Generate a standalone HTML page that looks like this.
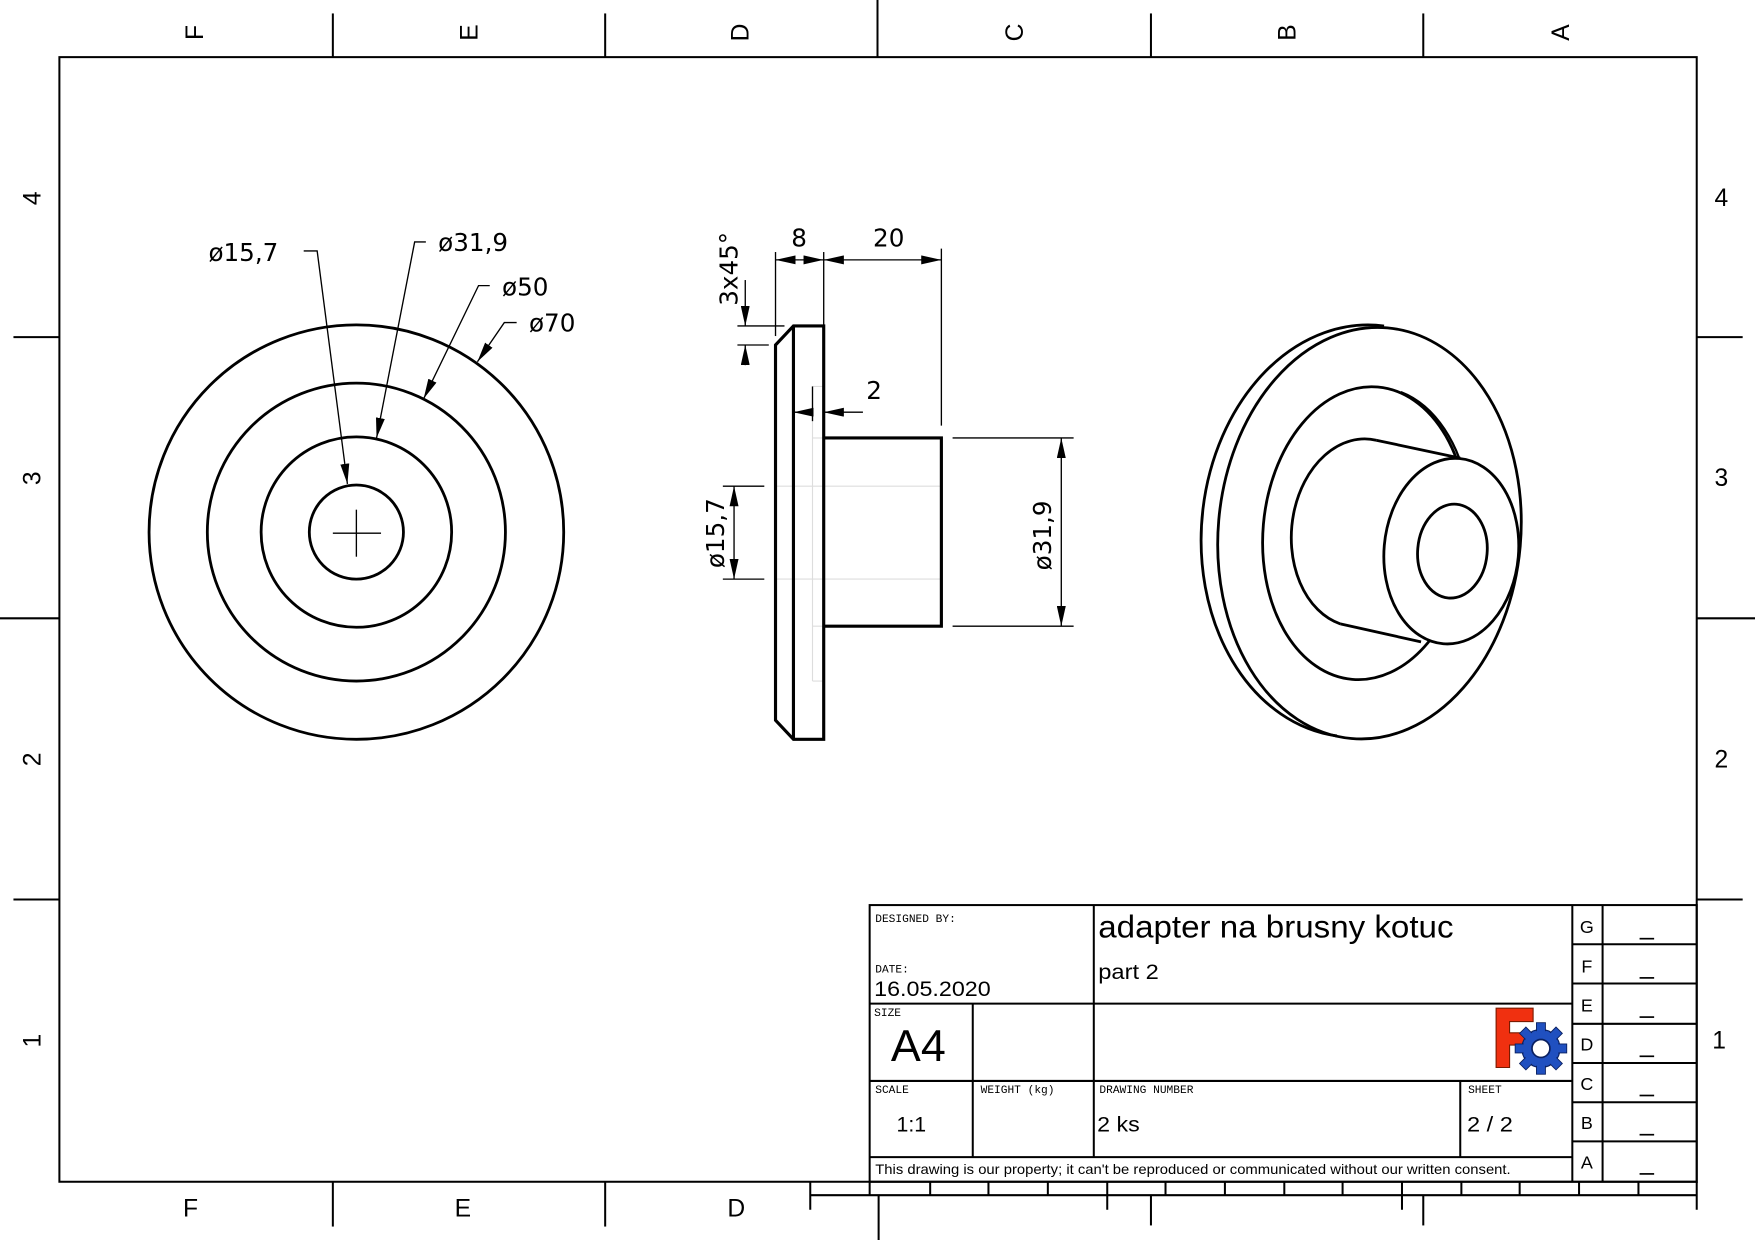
<!DOCTYPE html>
<html><head><meta charset="utf-8"><style>
html,body{margin:0;padding:0;background:#fff}
svg{display:block}
text{font-family:"DejaVu Sans","Liberation Sans",sans-serif}
.t{font-family:"Liberation Sans",sans-serif}
.m{font-family:"Liberation Mono","DejaVu Sans Mono",monospace;font-size:10px}
</style></head><body>
<svg width="1755" height="1240" viewBox="0 0 1566 1107" preserveAspectRatio="none" xmlns="http://www.w3.org/2000/svg">
<defs>
<marker id="a" viewBox="0 0 18 8" refX="18" refY="4" markerWidth="18" markerHeight="8" markerUnits="userSpaceOnUse" orient="auto-start-reverse"><path d="M0,0 L18,4 L0,8 z" fill="#000"/></marker>
</defs>
<rect width="1566" height="1107" fill="#fff"/>
<g stroke="#000" stroke-width="1.8" fill="none">
<rect x="53" y="51" width="1461" height="1004"/>
<line x1="297" y1="12" x2="297" y2="51"/><line x1="540" y1="12" x2="540" y2="51"/><line x1="783" y1="0" x2="783" y2="51"/><line x1="1027" y1="12" x2="1027" y2="51"/><line x1="1270" y1="12" x2="1270" y2="51"/>
<line x1="297" y1="1055" x2="297" y2="1095"/><line x1="540" y1="1055" x2="540" y2="1095"/>
<line x1="12" y1="301" x2="53" y2="301"/><line x1="0" y1="552" x2="53" y2="552"/><line x1="12" y1="803" x2="53" y2="803"/>
<line x1="1514" y1="301" x2="1555" y2="301"/><line x1="1514" y1="552" x2="1566" y2="552"/><line x1="1514" y1="803" x2="1555" y2="803"/>
</g>
<g font-size="22" text-anchor="middle" class="t" font-family="Liberation Sans">
<text transform="translate(181,29) rotate(-90)" class="t">F</text>
<text transform="translate(426,29) rotate(-90)" class="t">E</text>
<text transform="translate(668,29) rotate(-90)" class="t">D</text>
<text transform="translate(913,29) rotate(-90)" class="t">C</text>
<text transform="translate(1156,29) rotate(-90)" class="t">B</text>
<text transform="translate(1400,29) rotate(-90)" class="t">A</text>
<text transform="translate(36,177) rotate(-90)" class="t">4</text>
<text transform="translate(36,427) rotate(-90)" class="t">3</text>
<text transform="translate(36,678) rotate(-90)" class="t">2</text>
<text transform="translate(36,929) rotate(-90)" class="t">1</text>
<text x="170" y="1086" class="t">F</text><text x="413" y="1086" class="t">E</text><text x="657" y="1086" class="t">D</text>
<text x="1536" y="184" class="t">4</text><text x="1536" y="434" class="t">3</text><text x="1536" y="685" class="t">2</text><text x="1534" y="936" class="t">1</text>
</g>
<g stroke="#000" stroke-width="2.5" fill="none">
<circle cx="318" cy="475" r="185"/><circle cx="318" cy="475" r="133"/><circle cx="318" cy="475" r="85"/><circle cx="318" cy="475" r="42"/>
</g>
<g stroke="#000" stroke-width="1.2" fill="none">
<line x1="318" y1="455" x2="318" y2="497"/><line x1="297" y1="476" x2="340" y2="476"/>
<polyline points="271,224 283,224 310,432" marker-end="url(#a)"/>
<polyline points="380,216 370,216 336,391" marker-end="url(#a)"/>
<polyline points="437,255 427,255 378,356" marker-end="url(#a)"/>
<polyline points="461,288 450,288 426,323" marker-end="url(#a)"/>
</g>
<g font-size="22">
<text x="186" y="233">ø15,7</text><text x="391" y="224">ø31,9</text><text x="448" y="264">ø50</text><text x="472" y="296">ø70</text>
</g>
<g stroke="#ddd" stroke-width="1" fill="none">
<polyline points="725,345 735,345"/><line x1="725" y1="345" x2="725" y2="608"/><line x1="725" y1="608" x2="735" y2="608"/>
<line x1="692" y1="434" x2="840" y2="434"/><line x1="692" y1="517" x2="840" y2="517"/><line x1="725" y1="391" x2="735" y2="391"/><line x1="725" y1="559" x2="735" y2="559"/>
</g>
<g stroke="#000" stroke-width="2.8" fill="none">
<polygon points="692,308 708,291 735,291 735,660 708,660 692,643"/>
<line x1="708" y1="291" x2="708" y2="660"/>
<polyline points="735,391 840,391 840,559 735,559"/>
</g>
<g stroke="#000" stroke-width="1.2" fill="none">
<line x1="692" y1="225" x2="692" y2="300"/><line x1="735" y1="225" x2="735" y2="290"/><line x1="840" y1="222" x2="840" y2="380"/>
<line x1="692" y1="232" x2="713" y2="232" marker-start="url(#a)"/><line x1="713" y1="232" x2="735" y2="232" marker-end="url(#a)"/>
<line x1="735" y1="232" x2="840" y2="232" marker-start="url(#a)" marker-end="url(#a)"/>
<line x1="658" y1="291" x2="700" y2="291"/><line x1="658" y1="308" x2="686" y2="308"/>
<line x1="665" y1="250" x2="665" y2="291" marker-end="url(#a)"/><line x1="665" y1="326" x2="665" y2="308" marker-end="url(#a)"/>
<line x1="725" y1="345" x2="725" y2="376"/>
<line x1="708" y1="368" x2="725" y2="368" marker-start="url(#a)"/><line x1="770" y1="368" x2="735" y2="368" marker-end="url(#a)"/>
<line x1="645" y1="434" x2="682" y2="434"/><line x1="645" y1="517" x2="682" y2="517"/>
<line x1="655" y1="434" x2="655" y2="517" marker-start="url(#a)" marker-end="url(#a)"/>
<line x1="850" y1="391" x2="958" y2="391"/><line x1="850" y1="559" x2="958" y2="559"/>
<line x1="947" y1="391" x2="947" y2="559" marker-start="url(#a)" marker-end="url(#a)"/>
</g>
<g font-size="22">
<text x="713" y="220" text-anchor="middle">8</text><text x="793" y="220" text-anchor="middle">20</text>
<text x="780" y="356" text-anchor="middle">2</text>
<text transform="translate(658,240) rotate(-90)" text-anchor="middle">3x45°</text>
<text transform="translate(646,476) rotate(-90)" text-anchor="middle">ø15,7</text>
<text transform="translate(938,478) rotate(-90)" text-anchor="middle">ø31,9</text>
</g>
<g stroke="#000" stroke-width="2.5" fill="none">
<path d="M1235,291 A141,183 5 0 0 1193,657"/>
<ellipse cx="1222" cy="476" rx="135" ry="184" transform="rotate(5 1222 476)"/>
<ellipse cx="1218" cy="476" rx="91" ry="131" transform="rotate(5 1218 476)"/>
<path d="M1250,350 A91,131 5 0 1 1310,440" stroke-width="2"/>
<path d="M1228,393 A62,84 5 0 0 1196,557"/>
<line x1="1228" y1="393" x2="1303" y2="409"/><line x1="1196" y1="557" x2="1268" y2="573"/>
<ellipse cx="1295" cy="492" rx="60" ry="83" transform="rotate(5 1295 492)" fill="#fff"/>
<ellipse cx="1296" cy="492" rx="31" ry="42" transform="rotate(5 1296 492)"/>
</g>
<g stroke="#000" stroke-width="1.8" fill="none">
<rect x="776" y="808" width="738" height="247"/>
<line x1="776" y1="896" x2="1403" y2="896"/><line x1="776" y1="965" x2="1403" y2="965"/><line x1="776" y1="1033" x2="1403" y2="1033"/>
<line x1="976" y1="808" x2="976" y2="1033"/><line x1="868" y1="896" x2="868" y2="1033"/><line x1="1303" y1="965" x2="1303" y2="1033"/>
<line x1="1403" y1="808" x2="1403" y2="1055"/><line x1="1430" y1="808" x2="1430" y2="1055"/>
<line x1="1403" y1="843" x2="1514" y2="843"/><line x1="1403" y1="878" x2="1514" y2="878"/><line x1="1403" y1="914" x2="1514" y2="914"/><line x1="1403" y1="949" x2="1514" y2="949"/><line x1="1403" y1="984" x2="1514" y2="984"/><line x1="1403" y1="1019" x2="1514" y2="1019"/>
<line x1="723" y1="1067" x2="1514" y2="1067"/><line x1="723" y1="1055" x2="723" y2="1080"/><line x1="1514" y1="1055" x2="1514" y2="1080"/>
<line x1="776" y1="1055" x2="776" y2="1067"/><line x1="830" y1="1055" x2="830" y2="1067"/><line x1="882" y1="1055" x2="882" y2="1067"/><line x1="935" y1="1055" x2="935" y2="1067"/><line x1="988" y1="1055" x2="988" y2="1080"/><line x1="1040" y1="1055" x2="1040" y2="1067"/><line x1="1093" y1="1055" x2="1093" y2="1067"/><line x1="1146" y1="1055" x2="1146" y2="1067"/><line x1="1198" y1="1055" x2="1198" y2="1067"/><line x1="1251" y1="1055" x2="1251" y2="1080"/><line x1="1304" y1="1055" x2="1304" y2="1067"/><line x1="1356" y1="1055" x2="1356" y2="1067"/><line x1="1409" y1="1055" x2="1409" y2="1067"/><line x1="1462" y1="1055" x2="1462" y2="1067"/>
<line x1="784" y1="1067" x2="784" y2="1107"/><line x1="1027" y1="1067" x2="1027" y2="1094"/><line x1="1270" y1="1067" x2="1270" y2="1094"/>
</g>
<g stroke="#000" stroke-width="1.5">
<line x1="1463" y1="838" x2="1476" y2="838"/><line x1="1463" y1="873" x2="1476" y2="873"/><line x1="1463" y1="908" x2="1476" y2="908"/><line x1="1463" y1="943" x2="1476" y2="943"/><line x1="1463" y1="978" x2="1476" y2="978"/><line x1="1463" y1="1013" x2="1476" y2="1013"/><line x1="1463" y1="1048" x2="1476" y2="1048"/>
</g>
<g class="t" font-family="Liberation Sans">
<text x="781" y="823" class="m">DESIGNED BY:</text>
<text x="781" y="868" class="m">DATE:</text>
<text x="780" y="889" font-size="19" class="t" textLength="104" lengthAdjust="spacingAndGlyphs">16.05.2020</text>
<text x="980" y="837" font-size="28" class="t" textLength="317" lengthAdjust="spacingAndGlyphs">adapter na brusny kotuc</text>
<text x="980" y="874" font-size="19" class="t" textLength="54" lengthAdjust="spacingAndGlyphs">part 2</text>
<text x="780" y="907" class="m">SIZE</text>
<text x="795" y="947" font-size="40" class="t">A4</text>
<text x="781" y="976" class="m">SCALE</text>
<text x="875" y="976" class="m">WEIGHT (kg)</text>
<text x="981" y="976" class="m">DRAWING NUMBER</text>
<text x="1310" y="976" class="m">SHEET</text>
<text x="800" y="1010" font-size="19" class="t">1:1</text>
<text x="979" y="1010" font-size="19" class="t" textLength="38" lengthAdjust="spacingAndGlyphs">2 ks</text>
<text x="1309" y="1010" font-size="19" class="t" textLength="41" lengthAdjust="spacingAndGlyphs">2 / 2</text>
<text x="781" y="1048" font-size="12.5" class="t" textLength="567" lengthAdjust="spacingAndGlyphs">This drawing is our property; it can't be reproduced or communicated without our written consent.</text>
<g font-size="16" text-anchor="middle">
<text x="1416" y="833" class="t">G</text><text x="1416" y="868" class="t">F</text><text x="1416" y="903" class="t">E</text><text x="1416" y="938" class="t">D</text><text x="1416" y="973" class="t">C</text><text x="1416" y="1008" class="t">B</text><text x="1416" y="1043" class="t">A</text>
</g>
</g>
<path d="M1335,900 L1368,900 L1368,912 L1347,912 L1347,922 L1362,922 L1362,933 L1347,933 L1347,953 L1335,953 Z" fill="#f03010" stroke="#7a1a00" stroke-width="1"/>
<g transform="translate(1375,936)">
<circle r="17" fill="#2050c0" stroke="#0a2060" stroke-width="1"/>
<g fill="#2050c0" stroke="#0a2060" stroke-width="0.8">
<rect x="-4" y="-23" width="8" height="9"/><rect x="-4" y="-23" width="8" height="9" transform="rotate(45)"/><rect x="-4" y="-23" width="8" height="9" transform="rotate(90)"/><rect x="-4" y="-23" width="8" height="9" transform="rotate(135)"/><rect x="-4" y="-23" width="8" height="9" transform="rotate(180)"/><rect x="-4" y="-23" width="8" height="9" transform="rotate(225)"/><rect x="-4" y="-23" width="8" height="9" transform="rotate(270)"/><rect x="-4" y="-23" width="8" height="9" transform="rotate(315)"/>
</g>
<circle r="16" fill="#2050c0"/>
<circle r="8" fill="#fff" stroke="#0a2060" stroke-width="1.5"/>
</g>
</svg>
</body></html>
